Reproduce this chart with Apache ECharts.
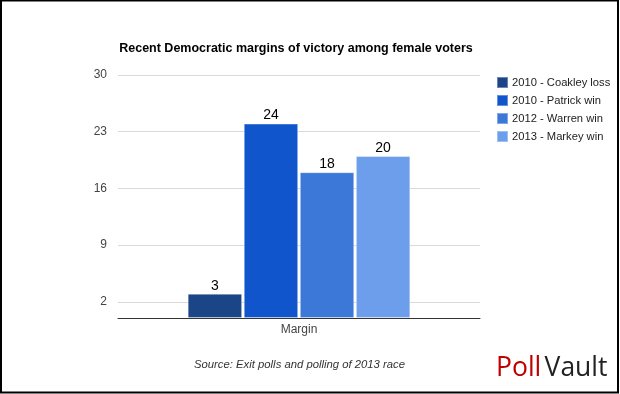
<!DOCTYPE html>
<html>
<head>
<meta charset="utf-8">
<script src="https://cdn.jsdelivr.net/npm/echarts@6/dist/echarts.min.js"></script>
<style>
html,body{margin:0;padding:0;background:#fff;}
#c{width:620px;height:394px;}
</style>
</head>
<body>
<div id="c"></div>
<script>
const categories = ['Margin'];
const seriesNames = ['2010 - Coakley loss', '2010 - Patrick win', '2012 - Warren win', '2013 - Markey win'];
const seriesValues = [3, 24, 18, 20];
const tickValues = [2, 9, 16, 23, 30];
const colors = ['#1c4587', '#1155cc', '#3c78d8', '#6d9eeb'];

const chart = echarts.init(document.getElementById('c'), null, {renderer: 'canvas'});
const series = seriesNames.map((n, i) => ({
  name: n,
  type: 'bar',
  data: [seriesValues[i]],
  barGap: '3%',
  barCategoryGap: '38.5%',
  itemStyle: {color: colors[i], borderColor: 'rgba(255,255,255,0.35)', borderWidth: 1},
  label: {show: true, position: 'top', distance: 1, color: '#000', fontFamily: 'Arial, Liberation Sans', fontSize: 14},
  emphasis: {disabled: true}
}));

chart.setOption({
  animation: false,
  backgroundColor: '#fff',
  title: {
    text: 'Recent Democratic margins of victory among female voters',
    left: 291, top: 37, textAlign: 'center',
    textStyle: {fontFamily: 'Arial, Liberation Sans', fontSize: 12.5, fontWeight: 'bold', color: '#000'}
  },
  legend: {
    orient: 'vertical', left: 491, top: 71, itemWidth: 11, itemHeight: 11, itemGap: 5,
    icon: 'rect',
    textStyle: {fontFamily: 'Arial, Liberation Sans', fontSize: 11.2, lineHeight: 13, color: '#222', padding: [0, 0, 0, -1]},
    data: seriesNames
  },
  grid: {left: 118, right: 140, top: 75, bottom: 76, containLabel: false},
  xAxis: {
    type: 'category', data: categories,
    axisLine: {lineStyle: {color: '#333', width: 1}},
    axisTick: {show: false},
    axisLabel: {fontFamily: 'Arial, Liberation Sans', fontSize: 12, color: '#444', margin: 6}
  },
  yAxis: {
    type: 'value', min: 0, max: 30,
    axisLine: {show: false},
    axisTick: {show: false, customValues: tickValues},
    axisLabel: {customValues: tickValues, fontFamily: 'Arial, Liberation Sans', fontSize: 12, color: '#444', margin: 11},
    splitLine: {lineStyle: {color: '#d9d9d9', width: 1}}
  },
  series: series,
  graphic: [
    {type: 'text', left: 194, top: 359, style: {text: 'Source: Exit polls and polling of 2013 race', font: 'italic 11.3px Arial, Liberation Sans', fill: '#333'}},
    {type: 'text', left: 496, top: 355, style: {
      text: '{a|Poll} {b|Vault}',
      rich: {
        a: {fill: '#c00000', fontFamily: 'Open Sans, DejaVu Sans', fontSize: 26.5},
        b: {fill: '#222', fontFamily: 'Open Sans, DejaVu Sans', fontSize: 26.5}
      }
    }},
    {type: 'rect', shape: {x: 1, y: 0.5, width: 617, height: 392}, style: {fill: 'none', stroke: '#000', lineWidth: 2}, silent: true}
  ]
});
</script>
</body>
</html>
